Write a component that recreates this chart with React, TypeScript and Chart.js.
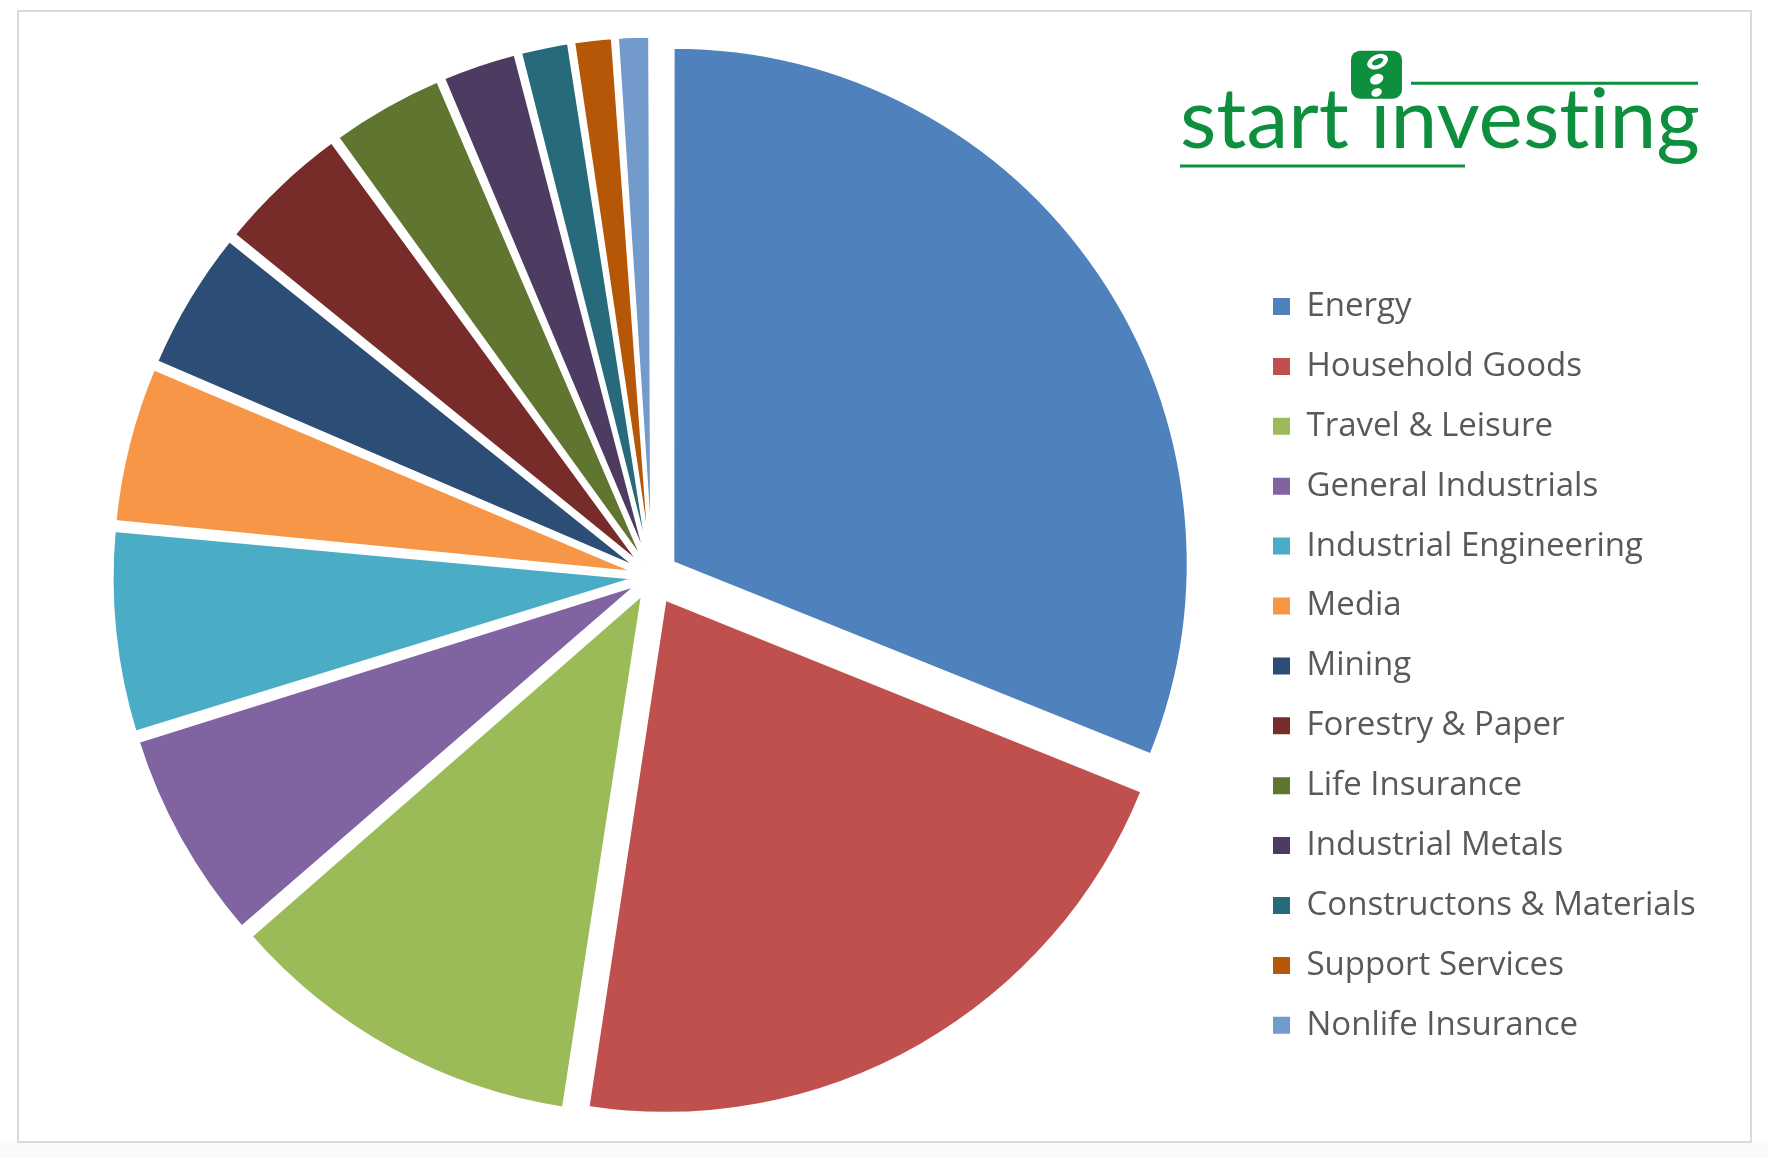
import { useEffect, useRef } from 'react';
import { Chart, ChartConfiguration, registerables } from 'chart.js';

Chart.register(...registerables);

// sector weights (% of portfolio), clockwise from 12 o'clock
const sectors = [
  'Energy',
  'Household Goods',
  'Travel & Leisure',
  'General Industrials',
  'Industrial Engineering',
  'Media',
  'Mining',
  'Forestry & Paper',
  'Life Insurance',
  'Industrial Metals',
  'Constructons & Materials',
  'Support Services',
  'Nonlife Insurance',
];
const weights = [31.1, 21.3, 11.2, 6.6, 6.3, 4.9, 4.4, 4.2, 3.6, 2.4, 1.6, 1.3, 1.1];
const sliceColors = [
  '#4F81BD', '#C0504D', '#9BBB59', '#8064A2', '#4BACC6', '#F79646', '#2C4D75',
  '#772C2A', '#5F7530', '#4D3B62', '#276A7C', '#B65708', '#729ACA',
];

const PAGE_W = 1768;
const PAGE_H = 1158;
const GREEN = '#0e8f3e';

// pie geometry
const CX = 652.2;
const CY = 576.5;
const RADIUS = 513.5;
const EXPLODE = 26.7;

// legend geometry
const FONT_FAMILY = '"Open Sans"';
const FONT_SIZE = 33;
const ROW = 59.9;
const BOX = 17;
const BOX_X = 1273;
const FIRST_MID = 306.5;

export default function App() {
  const canvasRef = useRef<HTMLCanvasElement>(null);
  const chartRef = useRef<Chart | null>(null);

  useEffect(() => {
    if (!canvasRef.current) return;
    const ctx = canvasRef.current.getContext('2d');
    if (!ctx) return;
    if (chartRef.current) chartRef.current.destroy();

    // Chart.js moves an arc by offset/4 and grows its radius by offset/4*(1-sin(angle)),
    // so pick each offset to push every slice out by the same distance
    const total = weights.reduce((a, b) => a + b, 0);
    const offsets = weights.map((w) => {
      const circ = (w / total) * Math.PI * 2;
      const fix = 1 - Math.sin(Math.min(Math.PI, circ));
      return (4 * EXPLODE) / (1 + fix);
    });

    ctx.font = `${FONT_SIZE}px ${FONT_FAMILY}`;
    const maxText = Math.max(...sectors.map((s) => ctx.measureText(s).width));

    const pad = ROW - FONT_SIZE;
    const legendLeft = BOX_X - pad;
    const padTop = 20;
    const padBottom = PAGE_H - (2 * CY - padTop);
    const padLeft = 2 * CX - legendLeft;
    const padRight = PAGE_W - (legendLeft + pad + BOX + FONT_SIZE / 2 + maxText + 10);
    const colHeight = sectors.length * ROW;
    const firstTop = FIRST_MID - FONT_SIZE / 2;
    const titleHeight = 2 * firstTop - (padTop + pad + (PAGE_H - padBottom) - colHeight);

    const baseLabels = (Chart.overrides as any).doughnut.plugins.legend.labels.generateLabels;

    const config: ChartConfiguration = {
      type: 'pie',
      data: {
        labels: sectors,
        datasets: [
          {
            data: weights,
            backgroundColor: sliceColors,
            borderColor: '#ffffff',
            borderWidth: 3,
            offset: offsets,
            hoverOffset: 0,
            radius: RADIUS,
            clip: false,
          } as any,
        ],
      },
      options: {
        animation: false,
        responsive: true,
        maintainAspectRatio: false,
        events: [],
        layout: {
          padding: { top: padTop, bottom: padBottom, left: padLeft, right: padRight },
        },
        plugins: {
          tooltip: { enabled: false },
          legend: {
            position: 'right',
            title: {
              display: true,
              text: ' ',
              font: { size: 12, lineHeight: 1.2 },
              padding: { top: titleHeight - 14.4, bottom: 0 },
            },
            labels: {
              boxWidth: BOX,
              boxHeight: BOX,
              padding: pad,
              color: '#595959',
              font: { family: FONT_FAMILY, size: FONT_SIZE },
              generateLabels: (chart: Chart) =>
                baseLabels(chart).map((item: any) => ({ ...item, lineWidth: 0 })),
            },
          },
        },
      },
    };

    chartRef.current = new Chart(ctx, config);

    return () => {
      if (chartRef.current) {
        chartRef.current.destroy();
        chartRef.current = null;
      }
    };
  }, []);

  return (
    <div style={{ position: 'absolute', left: 0, top: 0, width: PAGE_W, height: PAGE_H, background: '#ffffff', overflow: 'hidden' }}>
      <div style={{ position: 'absolute', left: 0, top: 1143, width: PAGE_W, height: PAGE_H - 1143, background: '#fafafa' }} />
      <div
        style={{
          position: 'absolute',
          left: 17,
          top: 10,
          width: 1735,
          height: 1133,
          boxSizing: 'border-box',
          border: '2px solid #dadada',
          background: '#ffffff',
        }}
      />
      <div style={{ position: 'absolute', left: 0, top: 0, width: PAGE_W, height: PAGE_H }}>
        <canvas ref={canvasRef}></canvas>
      </div>
      {/* logo */}
      <svg width={PAGE_W} height={PAGE_H} style={{ position: 'absolute', left: 0, top: 0, pointerEvents: 'none' }}>
        <line x1={1411} y1={83.3} x2={1698} y2={83.3} stroke={GREEN} strokeWidth={3} />
        <line x1={1180} y1={166} x2={1465} y2={166} stroke={GREEN} strokeWidth={3} />
        <text
          x={1180}
          y={148.3}
          textLength={520}
          lengthAdjust="spacingAndGlyphs"
          fontFamily="Lato"
          fontSize={84}
          fill={GREEN}
          style={{ fontVariantLigatures: 'none' }}
        >
          start investing
        </text>
        <rect x={1351} y={50.7} width={51} height={48} rx={9} fill={GREEN} />
        <ellipse cx={1377.6} cy={61.7} rx={11} ry={7} fill="#ffffff" transform="rotate(-25 1377.6 61.7)" />
        <ellipse cx={1377.6} cy={61.7} rx={6} ry={3} fill={GREEN} transform="rotate(-25 1377.6 61.7)" />
        <ellipse cx={1376.7} cy={79.2} rx={7} ry={5} fill="#ffffff" transform="rotate(-25 1376.7 79.2)" />
        <ellipse cx={1376.6} cy={92.5} rx={5.5} ry={4} fill="#ffffff" transform="rotate(-25 1376.6 92.5)" />
      </svg>
    </div>
  );
}
